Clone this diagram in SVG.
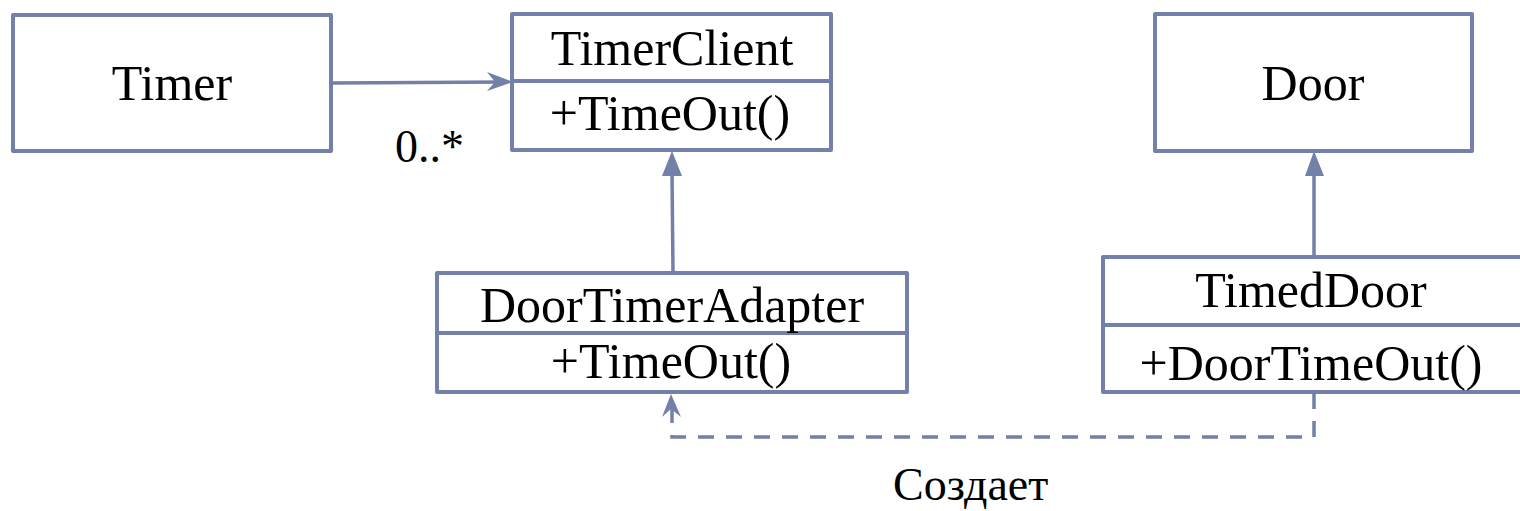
<svg xmlns="http://www.w3.org/2000/svg" width="1520" height="511" viewBox="0 0 1520 511">
<style>
.box{fill:#fff;stroke:#7380a8;stroke-width:4;stroke-linejoin:round}
.div{stroke:#7380a8;stroke-width:4}
.t{font-family:"Liberation Serif","Times New Roman",serif;font-size:50px;fill:#000;text-anchor:middle}
.lbl{font-family:"Liberation Serif","Times New Roman",serif;font-size:46px;fill:#000}
.ln{fill:none;stroke:#7380a8;stroke-width:3.5}
.dash{fill:none;stroke:#7380a8;stroke-width:3.5;stroke-dasharray:16 12}
.ah{fill:#7380a8;stroke:none}
</style>
<rect width="1520" height="511" fill="#fff"/>
<g id="connectors">
<line class="ln" x1="331" y1="83" x2="506" y2="82"/>
<path class="ah" d="M513,82 L487,72 L495,82 L487,91 Z"/>
<line class="ln" x1="673" y1="273" x2="672" y2="172"/>
<path class="ah" d="M672,151 L662,176 L682,176 Z"/>
<line class="ln" x1="1314" y1="257" x2="1314" y2="172"/>
<path class="ah" d="M1314,151 L1305,176 L1324,176 Z"/>
<path class="dash" d="M1314,393 L1314,437 L672,437 L672,408"/>
<path class="ah" d="M671,394 L662,417 L671,409 L681,417 Z"/>
</g>
<g id="timer">
<rect class="box" x="13" y="15" width="318" height="136"/>
<text class="t" x="172" y="100">Timer</text>
</g>
<g id="timerclient">
<rect class="box" x="512" y="14" width="319" height="136"/>
<line class="div" x1="512" y1="81" x2="831" y2="81"/>
<text class="t" x="672" y="65">TimerClient</text>
<text class="t" x="670" y="130">+TimeOut()</text>
</g>
<g id="door">
<rect class="box" x="1155" y="14" width="317" height="137"/>
<text class="t" x="1313" y="100">Door</text>
</g>
<g id="doortimeradapter">
<rect class="box" x="437" y="273" width="470" height="119"/>
<line class="div" x1="437" y1="333" x2="907" y2="333"/>
<text class="t" x="672" y="322">DoorTimerAdapter</text>
<text class="t" x="671" y="378">+TimeOut()</text>
</g>
<g id="timeddoor">
<rect class="box" x="1103" y="257" width="420" height="135"/>
<line class="div" x1="1103" y1="325" x2="1520" y2="325"/>
<text class="t" x="1311" y="307">TimedDoor</text>
<text class="t" x="1311" y="380">+DoorTimeOut()</text>
</g>
<g id="labels">
<text class="lbl" x="395" y="162">0..*</text>
<text class="lbl" x="893" y="500">Создает</text>
</g>
</svg>
